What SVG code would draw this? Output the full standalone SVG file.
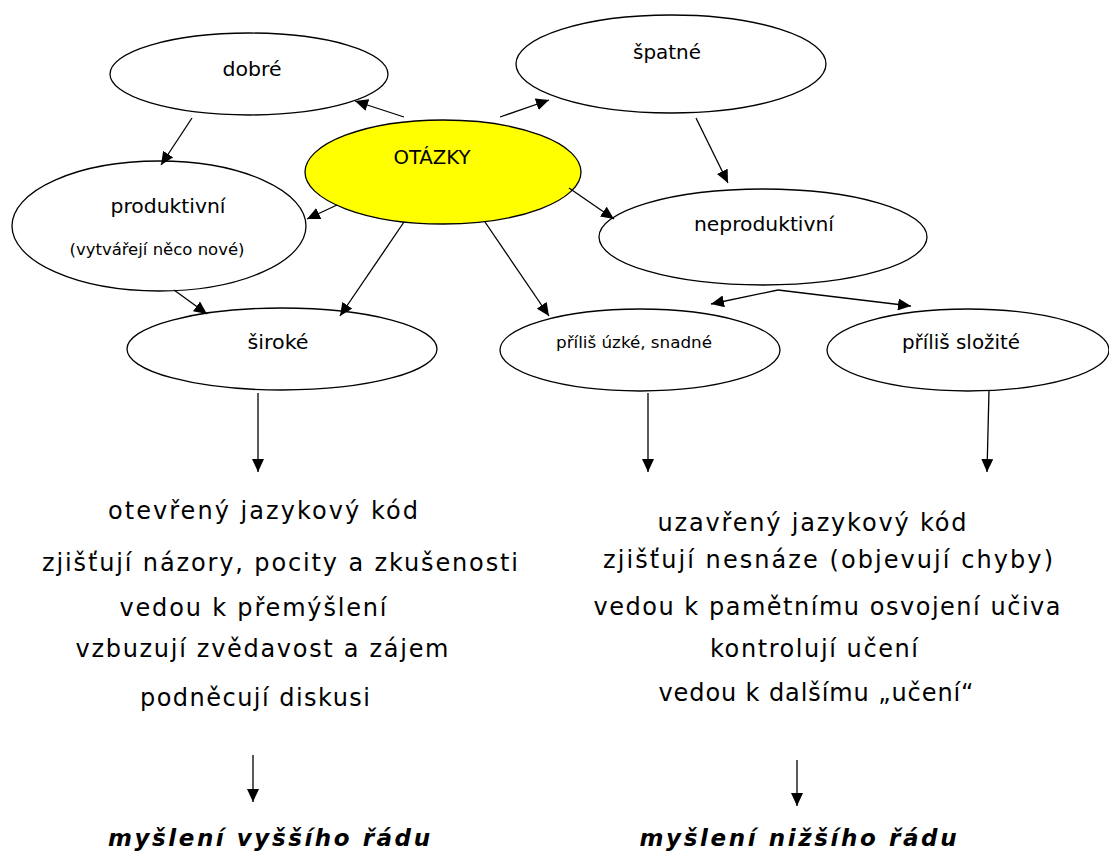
<svg xmlns="http://www.w3.org/2000/svg" width="1109" height="852" viewBox="0 0 1109 852">
<style>
.n{fill:#fff;stroke:#000;stroke-width:1.3}
.y{fill:#ffff00;stroke:#000;stroke-width:1.3}
.lb{font-family:"DejaVu Sans Condensed","DejaVu Sans",sans-serif;font-size:19px;fill:#000;text-anchor:middle}
.sm{font-family:"DejaVu Sans Condensed","DejaVu Sans",sans-serif;font-size:16px;fill:#000;text-anchor:middle}
.big{font-family:"DejaVu Sans",sans-serif;font-size:24px;fill:#000;text-anchor:middle}
.res{font-family:"DejaVu Sans",sans-serif;font-size:23px;font-weight:bold;font-style:italic;fill:#000;text-anchor:middle}
.c{stroke:#000;stroke-width:1.3;fill:none;marker-end:url(#ah)}
</style>
<defs>
<marker id="ah" markerUnits="userSpaceOnUse" markerWidth="14" markerHeight="12" refX="13" refY="6" orient="auto">
<path d="M0,0 L13,6 L0,12 Z" fill="#000"/>
</marker>
</defs>
<rect width="1109" height="852" fill="#fff"/>
<g id="node-dobre"><ellipse class="n" cx="249" cy="74" rx="139" ry="41"/><text class="lb" x="252" y="76" textLength="59" lengthAdjust="spacingAndGlyphs">dobré</text></g>
<g id="node-spatne"><ellipse class="n" cx="671" cy="64" rx="155" ry="49"/><text class="lb" x="667" y="59" textLength="68" lengthAdjust="spacingAndGlyphs">špatné</text></g>
<g id="node-otazky"><ellipse class="y" cx="443" cy="172" rx="138" ry="52"/><text class="lb" x="432" y="164" textLength="77" lengthAdjust="spacingAndGlyphs">OTÁZKY</text></g>
<g id="node-produktivni"><ellipse class="n" cx="159" cy="226" rx="147" ry="65"/><text class="lb" x="168" y="213" textLength="115" lengthAdjust="spacingAndGlyphs">produktivní</text><text class="sm" x="157" y="255" textLength="175" lengthAdjust="spacingAndGlyphs">(vytvářejí něco nové)</text></g>
<g id="node-neproduktivni"><ellipse class="n" cx="763" cy="237" rx="164" ry="48"/><text class="lb" x="764" y="231" textLength="140" lengthAdjust="spacingAndGlyphs">neproduktivní</text></g>
<g id="node-siroke"><ellipse class="n" cx="282" cy="349" rx="155" ry="41"/><text class="lb" x="278" y="349" textLength="61" lengthAdjust="spacingAndGlyphs">široké</text></g>
<g id="node-uzke"><ellipse class="n" cx="640" cy="350" rx="140" ry="41"/><text class="sm" x="634" y="348" textLength="156" lengthAdjust="spacingAndGlyphs">příliš úzké, snadné</text></g>
<g id="node-slozite"><ellipse class="n" cx="968" cy="350" rx="141" ry="41"/><text class="lb" x="961" y="349" textLength="118" lengthAdjust="spacingAndGlyphs">příliš složité</text></g>
<g id="connectors">
<line class="c" x1="404" y1="117" x2="355" y2="101"/>
<line class="c" x1="500" y1="117" x2="549" y2="100"/>
<line class="c" x1="192" y1="118" x2="161" y2="165"/>
<line class="c" x1="337" y1="205" x2="307" y2="219"/>
<line class="c" x1="696" y1="118" x2="728" y2="183"/>
<line class="c" x1="569" y1="188" x2="614" y2="219"/>
<line class="c" x1="174" y1="290" x2="207" y2="314"/>
<line class="c" x1="404" y1="222" x2="340" y2="316"/>
<line class="c" x1="485" y1="222" x2="549" y2="316"/>
<polyline class="c" points="778,290 711,304"/>
<polyline class="c" points="778,290 911,306"/>
<line class="c" x1="258" y1="393" x2="258" y2="472"/>
<line class="c" x1="648" y1="393" x2="648" y2="472"/>
<line class="c" x1="989" y1="390" x2="987" y2="472"/>
<line class="c" x1="253" y1="755" x2="253" y2="802"/>
<line class="c" x1="797" y1="760" x2="797" y2="806"/>
</g>
<g id="left-text" xml:space="preserve">
<text class="big" x="263" y="519" textLength="310" lengthAdjust="spacing">otevřený jazykový kód</text>
<text class="big" x="280" y="571" textLength="476" lengthAdjust="spacing">zjišťují názory, pocity a  zkušenosti</text>
<text class="big" x="253" y="616" textLength="267" lengthAdjust="spacing">vedou k přemýšlení</text>
<text class="big" x="262" y="657" textLength="373" lengthAdjust="spacing">vzbuzují zvědavost a zájem</text>
<text class="big" x="255" y="706" textLength="230" lengthAdjust="spacing">podněcují diskusi</text>
<text class="res" x="269" y="846" textLength="322" lengthAdjust="spacing">myšlení vyššího řádu</text>
</g>
<g id="right-text" xml:space="preserve">
<text class="big" x="812" y="531" textLength="309" lengthAdjust="spacing">uzavřený jazykový  kód</text>
<text class="big" x="828" y="568" textLength="450" lengthAdjust="spacing">zjišťují nesnáze (objevují chyby)</text>
<text class="big" x="827" y="615" textLength="467" lengthAdjust="spacing">vedou k pamětnímu osvojení učiva</text>
<text class="big" x="814" y="657" textLength="208" lengthAdjust="spacing">kontrolují učení</text>
<text class="big" x="816" y="701" textLength="315" lengthAdjust="spacing">vedou k dalšímu „učení“</text>
<text class="res" x="798" y="846" textLength="317" lengthAdjust="spacing">myšlení nižšího řádu</text>
</g>
</svg>
